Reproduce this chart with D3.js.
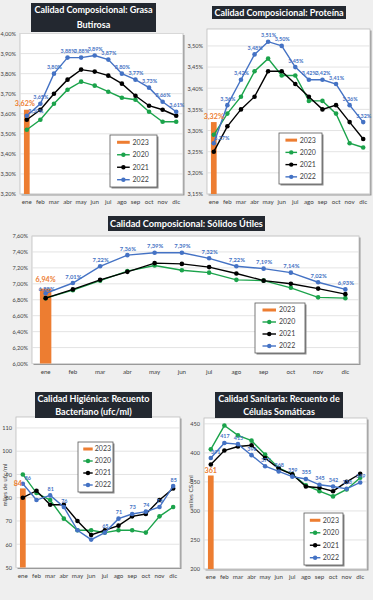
<!DOCTYPE html>
<html><head><meta charset="utf-8">
<script src="https://cdn.jsdelivr.net/npm/d3@7"></script>
<style>
html,body{margin:0;padding:0;background:#efefef;}
svg{display:block;font-family:Lato,"Liberation Sans",sans-serif;}
</style></head>
<body>
<svg id="c" width="373" height="600"></svg>
<script>
const months = ["ene","feb","mar","abr","may","jun","jul","ago","sep","oct","nov","dic"];
const years = ["2023","2020","2021","2022"];

// Grasa Butirosa (%)
const grasa2020 = [3.52,3.57,3.65,3.72,3.76,3.74,3.71,3.68,3.67,3.61,3.56,3.56];
const grasa2021 = [3.57,3.62,3.70,3.77,3.82,3.81,3.79,3.75,3.69,3.64,3.62,3.59];
const grasa2022 = [3.59,3.65,3.80,3.88,3.88,3.89,3.87,3.80,3.77,3.73,3.66,3.61];
const grasa2023 = [3.62];
const grasaTicks = [3.20,3.30,3.40,3.50,3.60,3.70,3.80,3.90,4.00];

// Proteína (%)
const prot2020 = [3.29,3.34,3.38,3.44,3.47,3.43,3.43,3.37,3.37,3.34,3.27,3.26];
const prot2021 = [3.25,3.31,3.35,3.38,3.44,3.44,3.41,3.38,3.35,3.36,3.32,3.28];
const prot2022 = [3.27,3.36,3.42,3.48,3.51,3.50,3.45,3.42,3.42,3.41,3.36,3.32];
const prot2023 = [3.32];
const protTicks = [3.15,3.20,3.25,3.30,3.35,3.40,3.45,3.50];

// Sólidos Útiles (%)
const sol2020 = [6.82,6.92,7.04,7.16,7.23,7.17,7.14,7.05,7.04,6.95,6.83,6.82];
const sol2021 = [6.82,6.93,7.05,7.15,7.26,7.25,7.21,7.13,7.04,7.00,6.94,6.87];
const sol2022 = [6.88,7.01,7.22,7.36,7.39,7.39,7.32,7.22,7.19,7.14,7.02,6.93];
const sol2023 = [6.94];
const solTicks = [6.00,6.20,6.40,6.60,6.80,7.00,7.20,7.40,7.60];

// Recuento Bacteriano (miles de ufc/ml)
const bact2020 = [90,82,79,71,66,66,65,66,66,65,72,76];
const bact2021 = [80,83,77,77,70,64,66,68,72,73,79,84];
const bact2022 = [86,79,81,76,66,62,65,71,73,74,76,85];
const bact2023 = [84];
const bactTicks = [50,60,70,80,90,100,110];
const bactLabeled = ["ene","mar","abr","jul","ago","sep","oct","nov","dic"];

// Células Somáticas (miles CS/ml)
const cel2020 = [406,447,430,421,397,374,363,344,334,325,337,357];
const cel2021 = [380,404,411,413,391,373,363,342,340,334,350,364];
const cel2022 = [391,417,415,396,377,368,359,355,345,342,338,349];
const cel2023 = [361];
const celTicks = [200,250,300,350,400,450];

const COL = {"2023":"#ED7D31","2020":"#1BA34B","2021":"#000000","2022":"#4472C4"};
const pct = v => v.toFixed(2).replace(".", ",") + "%";
const int = v => String(Math.round(v));

const svg = d3.select("#c");

function panel(cfg){
  const g = svg.append("g");
  const [px0,py0,px1,py1] = cfg.plot;
  const x = d3.scaleBand().domain(months).range([px0,px1]);
  const y = d3.scaleLinear().domain(cfg.domain).range([py1,py0]);

  // plot area
  g.append("rect").attr("x",px0+1.5).attr("y",py0+1.5).attr("width",px1-px0).attr("height",py1-py0)
    .attr("fill","#9a9a9a");
  g.append("rect").attr("x",px0).attr("y",py0).attr("width",px1-px0).attr("height",py1-py0)
    .attr("fill","#fff").attr("stroke","#bdbdbd").attr("stroke-width",0.8);

  // grid
  g.append("g").selectAll("line").data(cfg.ticks).join("line")
    .attr("x1",px0).attr("x2",px1).attr("y1",d=>y(d)).attr("y2",d=>y(d))
    .attr("stroke","#dcdcdc").attr("stroke-width",0.8);

  // axes
  const ya = g.append("g").attr("transform",`translate(${px0},0)`)
    .call(d3.axisLeft(y).tickValues(cfg.ticks).tickFormat(cfg.tickFmt).tickSize(0).tickPadding(cfg.tickPad||4));
  ya.select(".domain").remove();
  ya.selectAll("text").attr("font-size",5.6).attr("fill","#404040").attr("font-family","Lato,sans-serif");

  const xa = g.append("g").attr("transform",`translate(0,${py1})`)
    .call(d3.axisBottom(x).tickSize(0).tickPadding(cfg.xPad||6));
  xa.select(".domain").remove();
  xa.selectAll("text").attr("font-size",6.2).attr("fill","#404040").attr("font-family","Lato,sans-serif");

  if (cfg.yTitle){
    g.append("text").attr("transform",`translate(${cfg.yTitle[1]},${cfg.yTitle[2]}) rotate(-90)`)
      .attr("text-anchor","middle").attr("font-size",6.4).attr("fill","#404040").text(cfg.yTitle[0]);
  }

  // 2023 bar
  const bw = x.bandwidth()*0.42;
  const bx = x("ene") + x.bandwidth()/2 - bw/2;
  g.append("rect").attr("x",bx).attr("width",bw)
    .attr("y",y(cfg.s2023[0])).attr("height",y(cfg.domain[0])-y(cfg.s2023[0]))
    .attr("fill",COL["2023"]);

  // lines
  const line = d3.line().x((d,i)=>x(months[i])+x.bandwidth()/2).y(d=>y(d));
  [["2020",cfg.s2020],["2021",cfg.s2021],["2022",cfg.s2022]].forEach(([k,arr])=>{
    g.append("path").datum(arr).attr("d",line).attr("fill","none")
      .attr("stroke",COL[k]).attr("stroke-width",1.4);
    g.append("g").selectAll("circle").data(arr).join("circle")
      .attr("cx",(d,i)=>x(months[i])+x.bandwidth()/2).attr("cy",d=>y(d))
      .attr("r",2.3).attr("fill",COL[k]);
  });

  // blue data labels
  const lab = cfg.s2022.map((v,i)=>({v,m:months[i]})).filter(d=>!cfg.labeled || cfg.labeled.includes(d.m));
  g.append("g").selectAll("text").data(lab).join("text")
    .attr("x",d=>x(d.m)+x.bandwidth()/2 + (d.m==="ene"?cfg.eneDx:0.5))
    .attr("y",d=>y(d.v) - (d.m==="ene"?cfg.eneDy:4.5))
    .attr("text-anchor","middle").attr("font-size",cfg.labSize||5.4).attr("font-weight","bold")
    .attr("fill","#4472C4").text(d=>cfg.fmt(d.v));

  // bar label
  g.append("text").attr("x",x("ene")+x.bandwidth()/2 + (cfg.barDx||0)).attr("y",y(cfg.s2023[0])-(cfg.barDy||2.5))
    .attr("text-anchor","middle").attr("font-size",7.2).attr("font-weight","bold")
    .attr("fill",COL["2023"]).text(cfg.fmt(cfg.s2023[0]));

  // legend
  const [lx0,ly0,lx1,ly1] = cfg.legend;
  const lw = lx1-lx0, lh = ly1-ly0;
  g.append("rect").attr("x",lx0+1.5).attr("y",ly0+1.5).attr("width",lw).attr("height",lh).attr("fill","#8c8c8c");
  g.append("rect").attr("x",lx0).attr("y",ly0).attr("width",lw).attr("height",lh)
    .attr("fill","#fff").attr("stroke","#595959").attr("stroke-width",0.8);
  years.forEach((k,i)=>{
    const ry = ly0 + lh*(0.14 + i*0.24);
    const sx0 = lx0 + lw*0.15, sx1 = lx0 + lw*0.42;
    if (k==="2023"){
      g.append("rect").attr("x",sx0).attr("y",ry-1.5).attr("width",sx1-sx0).attr("height",3).attr("fill",COL[k]);
    } else {
      g.append("line").attr("x1",sx0).attr("x2",sx1).attr("y1",ry).attr("y2",ry).attr("stroke",COL[k]).attr("stroke-width",1.4);
      g.append("circle").attr("cx",(sx0+sx1)/2).attr("cy",ry).attr("r",2.2).attr("fill",COL[k]);
    }
    g.append("text").attr("x",lx0+lw*0.48).attr("y",ry+2.4).attr("font-size",7).attr("fill","#404040").text(k);
  });

  // title
  const [tx0,ty0,tx1,ty1] = cfg.tbox;
  g.append("rect").attr("x",tx0).attr("y",ty0).attr("width",tx1-tx0).attr("height",ty1-ty0).attr("fill","#232830");
  const n = cfg.title.length;
  cfg.title.forEach((t,i)=>{
    const cy = ty0 + (ty1-ty0)*(i+0.5)/n;
    g.append("text").attr("x",(tx0+tx1)/2).attr("y",cy+3.2).attr("text-anchor","middle")
      .attr("font-size",cfg.tSize||9).attr("font-weight","bold").attr("fill","#fff").text(t);
  });
}

panel({plot:[20,33.5,183,194], domain:[3.20,4.00], ticks:grasaTicks, tickFmt:pct, fmt:pct,
  s2020:grasa2020, s2021:grasa2021, s2022:grasa2022, s2023:grasa2023,
  eneDx:9, eneDy:3, barDx:-2, barDy:4, legend:[110,135,157,187], tbox:[31,3,156,32],
  title:["Calidad Composicional: Grasa","Butirosa"]});

panel({plot:[207,29,370,194], domain:[3.15,3.54], ticks:protTicks, tickFmt:pct, fmt:pct,
  s2020:prot2020, s2021:prot2021, s2022:prot2022, s2023:prot2023,
  eneDx:8, eneDy:3, barDy:3.5, legend:[279,133,322,184], tbox:[212,6,346,19],
  title:["Calidad Composicional: Proteína"]});

panel({plot:[32,236,359,363.5], domain:[6.00,7.60], ticks:solTicks, tickFmt:pct, fmt:pct,
  s2020:sol2020, s2021:sol2021, s2022:sol2022, s2023:sol2023, labSize:5.8,
  eneDx:1, eneDy:2.5, barDy:6.5, legend:[255,303,305,353], tbox:[108,216,265,231], tSize:9.2,
  title:["Calidad Composicional: Sólidos Útiles"]});

panel({plot:[16,417,180,567.5], domain:[50,114.7], ticks:bactTicks, tickFmt:int, fmt:int,
  s2020:bact2020, s2021:bact2021, s2022:bact2022, s2023:bact2023, labeled:bactLabeled,
  eneDx:5, eneDy:4, barDx:-5, legend:[78,442,113,492], tbox:[35,392,152,418], tickPad:4,
  yTitle:["miles de ufc/ml",7,485],
  title:["Calidad Higiénica: Recuento","Bacteriano (ufc/ml)"]});

panel({plot:[204,418,367,569], domain:[200,460], ticks:celTicks, tickFmt:int, fmt:int,
  s2020:cel2020, s2021:cel2021, s2022:cel2022, s2023:cel2023,
  eneDx:5, eneDy:4, legend:[304,513,343,565], tbox:[215,392,343,418], tickPad:4,
  yTitle:["miles CS/ml",193,492],
  title:["Calidad Sanitaria: Recuento de","Células Somáticas"]});
</script>
</body></html>
